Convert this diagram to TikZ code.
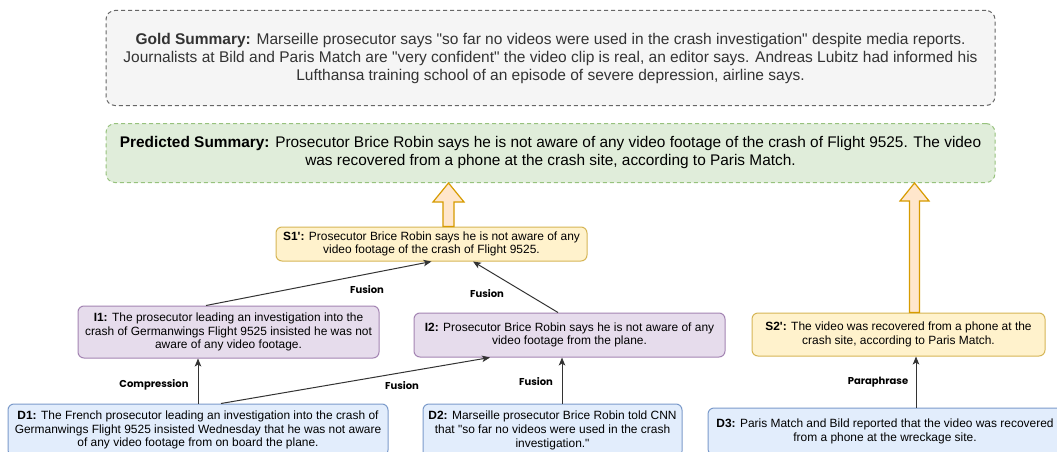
\documentclass[tikz,border=0pt]{standalone}
\usepackage{fontspec}
\newfontfamily\arialf{Liberation Sans}
\newfontfamily\lblfont{Poppins}
\usetikzlibrary{calc,arrows.meta}
\definecolor{goldfill}{HTML}{F5F5F5}
\definecolor{goldline}{HTML}{666666}
\definecolor{goldtext}{HTML}{333333}
\definecolor{predfill}{HTML}{E0EDDA}
\definecolor{predline}{HTML}{97C27D}
\definecolor{sfill}{HTML}{FFF2CC}
\definecolor{sline}{HTML}{D6B656}
\definecolor{ifill}{HTML}{E6DCEC}
\definecolor{iline}{HTML}{A485B3}
\definecolor{dfill}{HTML}{E2EDFC}
\definecolor{dline}{HTML}{7C9BCB}
\definecolor{afill}{HTML}{FFE6CC}
\definecolor{aline}{HTML}{D79B00}
\definecolor{edgec}{HTML}{333333}
\tikzset{
  box/.style={rounded corners=6pt, line width=1pt, align=center, inner sep=0pt,
    font=\arialf\fontsize{11.95}{13.8}\selectfont, text=black},
  goldbox/.style={box, fill=goldfill, draw=goldline, dash pattern=on 4pt off 3pt,
    text=goldtext, rounded corners=9pt, font=\arialf\fontsize{15.5}{18}\selectfont},
  predbox/.style={box, fill=predfill, draw=predline, dash pattern=on 4pt off 3pt,
    rounded corners=9pt, font=\arialf\fontsize{15.4}{18}\selectfont},
  sbox/.style={box, fill=sfill, draw=sline},
  ibox/.style={box, fill=ifill, draw=iline},
  dbox/.style={box, fill=dfill, draw=dline},
  conn/.style={draw=edgec, line width=1pt, -{Stealth[length=8pt,width=6.5pt,inset=2pt]}},
  barrow/.style={fill=afill, draw=aline, line width=1.2pt, line join=miter},
  lbl/.style={font=\lblfont\bfseries\fontsize{10}{11}\selectfont, text=black, inner sep=0pt}
}
\begin{document}
\begin{tikzpicture}[x=1pt,y=-1pt]
\useasboundingbox (0,0) rectangle (1057,452);
\fill[white] (0,0) rectangle (1057,452);

\node[goldbox, minimum width=889, minimum height=95] (G) at (550.5,58)
  {\textbf{Gold Summary:} Marseille prosecutor says "so far no videos were used in the crash investigation" despite media reports.\\
   Journalists at Bild and Paris Match are "very confident" the video clip is real, an editor says. Andreas Lubitz had informed his\\
   Lufthansa training school of an episode of severe depression, airline says.};

\node[predbox, minimum width=889, minimum height=59] (P) at (550.5,153)
  {\textbf{Predicted Summary:} Prosecutor Brice Robin says he is not aware of any video footage of the crash of Flight 9525. The video\\
   was recovered from a phone at the crash site, according to Paris Match.};

\node[sbox, minimum width=311, minimum height=34] (S1) at (431.5,244)
  {\textbf{S1':} Prosecutor Brice Robin says he is not aware of any\\ video footage of the crash of Flight 9525.};

\node[sbox, minimum width=293, minimum height=43] (S2) at (898.5,334.5)
  {\textbf{S2':} The video was recovered from a phone at the\\ crash site, according to Paris Match.};

\node[ibox, minimum width=301, minimum height=52] (I1) at (228.5,332)
  {\textbf{I1:} The prosecutor leading an investigation into the\\ crash of Germanwings Flight 9525 insisted he was not\\ aware of any video footage.};

\node[ibox, minimum width=311, minimum height=44] (I2) at (569.5,335)
  {\textbf{I2:} Prosecutor Brice Robin says he is not aware of any\\ video footage from the plane.};

\node[dbox, minimum width=380, minimum height=52] (D1) at (198,430)
  {\textbf{D1:} The French prosecutor leading an investigation into the crash of\\ Germanwings Flight 9525 insisted Wednesday that he was not aware\\ of any video footage from on board the plane.};

\node[dbox, minimum width=259, minimum height=53] (D2) at (552.5,430.5)
  {\textbf{D2:} Marseille prosecutor Brice Robin told CNN\\ that "so far no videos were used in the crash\\ investigation."};

\node[dbox, minimum width=354, minimum height=47] (D3) at (885,431.5)
  {\textbf{D3:} Paris Match and Bild reported that the video was recovered\\ from a phone at the wreckage site.};

% connectors
\draw[conn] (D1.north) -- (D1.north |- I1.south);
\draw[conn] ([xshift=23]D1.north) -- ([xshift=-79.5]I2.south);
\draw[conn] ([xshift=-22.5]I1.north) -- (S1.south);
\draw[conn] ([xshift=-11.5]I2.north) -- ([xshift=41.5]S1.south);
\draw[conn] ([xshift=9.5]D2.north) -- ([xshift=9.5]D2.north |- I2.south);
\draw[conn] ([xshift=31]D3.north) -- ([xshift=31]D3.north |- S2.south);

% block arrows
\coordinate (a1) at ([xshift=17]S1.north);
\coordinate (t1) at (a1 |- P.south);
\draw[barrow] ($(a1)+(-5.5,0)$) -- ($(t1)+(-5.5,19)$) -- ($(t1)+(-15.5,19)$) -- (t1)
  -- ($(t1)+(15.5,19)$) -- ($(t1)+(5.5,19)$) -- ($(a1)+(5.5,0)$) -- cycle;
\coordinate (a2) at ([xshift=16]S2.north);
\coordinate (t2) at (a2 |- P.south);
\draw[barrow] ($(a2)+(-5,0)$) -- ($(t2)+(-5,18)$) -- ($(t2)+(-14.5,18)$) -- (t2)
  -- ($(t2)+(14.5,18)$) -- ($(t2)+(5,18)$) -- ($(a2)+(5,0)$) -- cycle;

% labels
\node[lbl] (L1) at (154,385) {Compression};
\node[lbl] (L2) at (402,386) {Fusion};
\node[lbl] (L3) at (367,290) {Fusion};
\node[lbl] (L4) at (487,294) {Fusion};
\node[lbl] (L5) at (536,382) {Fusion};
\node[lbl] (L6) at (878,382) {Paraphrase};
\end{tikzpicture}
\end{document}
